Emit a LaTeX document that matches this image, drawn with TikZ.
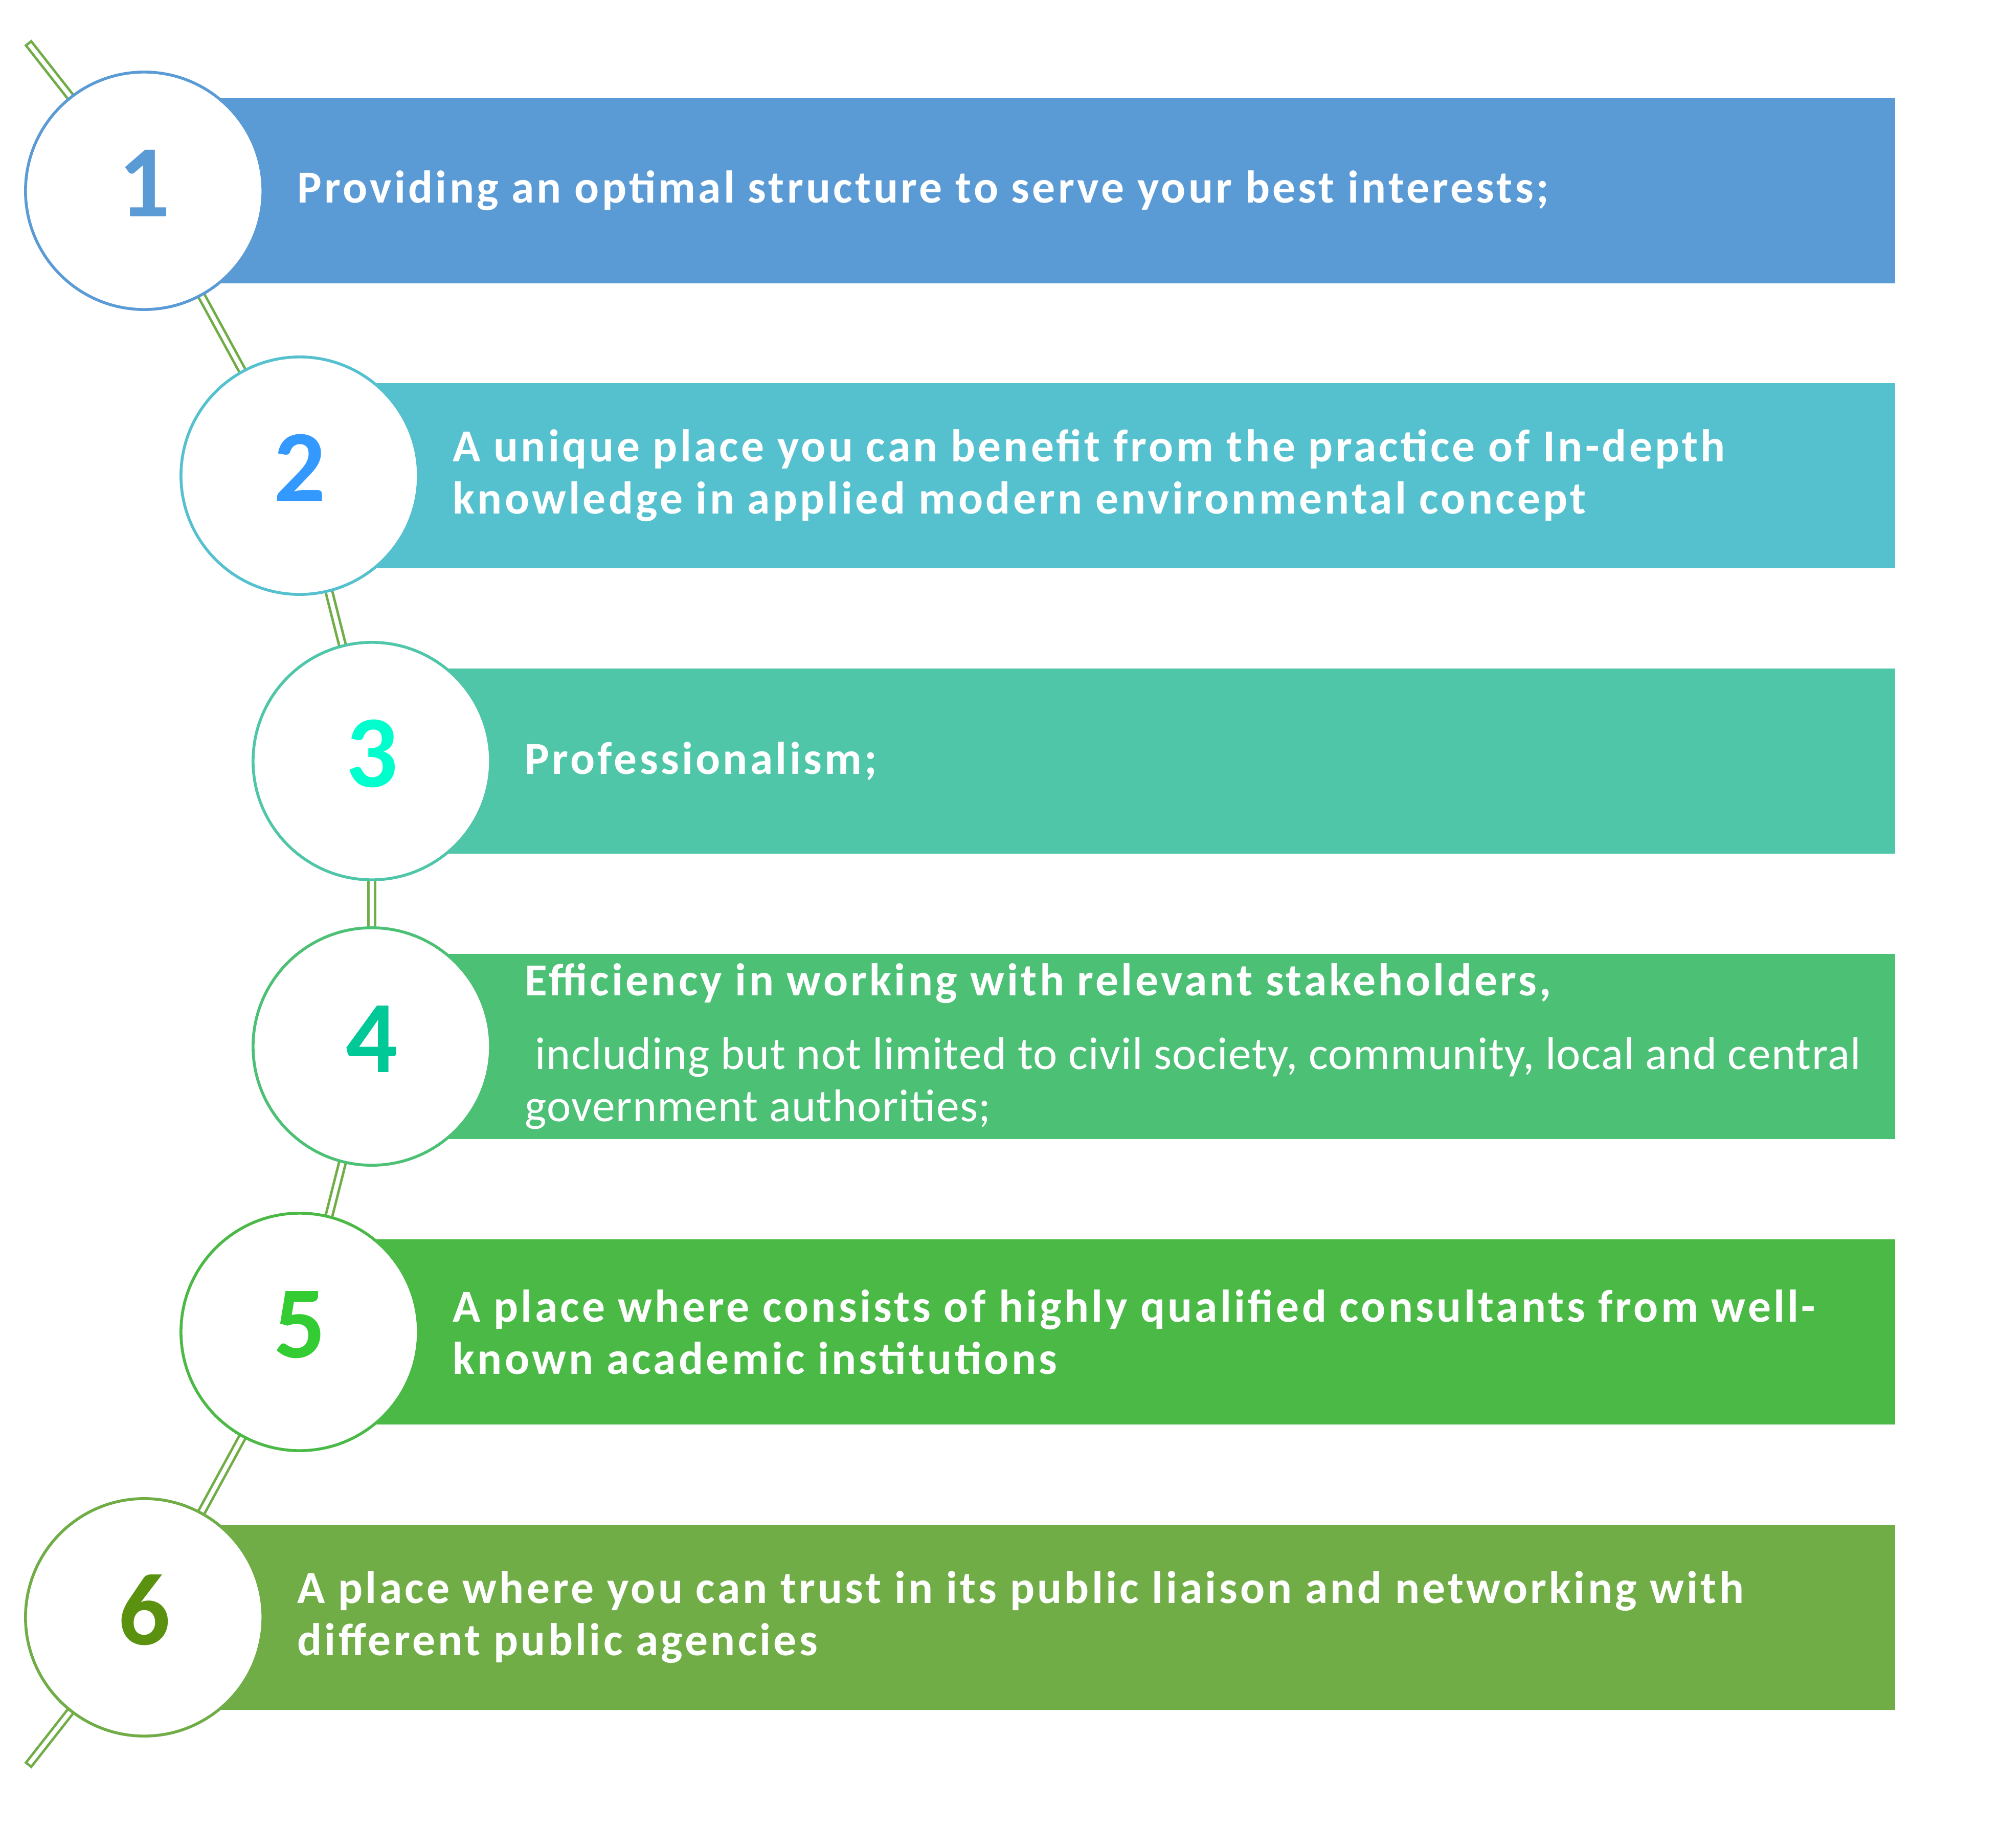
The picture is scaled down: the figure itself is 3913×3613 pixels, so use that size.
\documentclass[tikz,border=0pt]{standalone}
\usepackage{fontspec}
\setmainfont{Carlito}
\newfontfamily\boldtext[LetterSpace=5.8]{Carlito}
\newfontfamily\plaintext[LetterSpace=1.5]{Carlito}
\usetikzlibrary{positioning, fit, backgrounds}

\definecolor{barA}{HTML}{5B9BD5}
\definecolor{barB}{HTML}{55C1CF}
\definecolor{barC}{HTML}{50C6A8}
\definecolor{barD}{HTML}{4CC075}
\definecolor{barE}{HTML}{4AB946}
\definecolor{barF}{HTML}{70AD47}
\definecolor{numA}{HTML}{5B9BD5}
\definecolor{numB}{HTML}{3399FF}
\definecolor{numC}{HTML}{00FFCC}
\definecolor{numD}{HTML}{00C896}
\definecolor{numE}{HTML}{33CC33}
\definecolor{numF}{HTML}{5A9210}
\definecolor{chaingreen}{HTML}{70AD47}

\begin{document}
\begin{tikzpicture}[
    x=0.01cm, y=-0.01cm,
    node distance=0.64cm,
    % Circle Style
    stepcircle/.style={
        circle, draw=#1, line width=1.6pt, fill=white, minimum size=4.64cm,
        inner sep=0pt, text depth=0.3cm, font=\fontsize{57}{60}\selectfont\bfseries
    },
    % Bar Style
    stepbar/.style={rectangle, fill=#1, inner sep=0pt, minimum height=3.62cm},
    % Text Style
    bartext/.style={
        inner sep=0pt, align=left, text=white,
        font=\fontsize{25.5}{29}\selectfont\boldtext\bfseries
    },
    % Connector Style
    linkline/.style={draw=chaingreen, line width=1.4pt, double=white, double distance=2.3pt, line cap=rect}
]
    \useasboundingbox (0,0) rectangle (3913,3613);

    % --- CIRCLES ---
    \node[stepcircle=barA, text=numA] (c1) at (282,373) {1};
    \node[stepcircle=barB, text=numB] (c2) at (586,930) {2};
    \node[stepcircle=barC, text=numC] (c3) at (727,1488) {3};
    \node[stepcircle=barD, text=numD] (c4) at (727,2046) {4};
    \node[stepcircle=barE, text=numE] (c5) at (586,2604) {5};
    \node[stepcircle=barF, text=numF] (c6) at (282,3162) {6};

    % --- TEXTS ---
    \node[bartext, right=of c1] (t1) {Providing an optimal structure to serve your best interests;};
    \node[bartext, right=of c2] (t2) {A unique place you can benefit from the practice of In-depth\\
        knowledge in applied modern environmental concept};
    \node[bartext, right=of c3] (t3) {Professionalism;};
    \node[bartext, right=of c4] (t4) {Efficiency in working with relevant stakeholders,\\[0.42cm]
        \plaintext\mdseries\hspace*{0.2cm}including but not limited to civil society, community, local and central\\
        \plaintext\mdseries government authorities;};
    \node[bartext, right=of c5] (t5) {A place where consists of highly qualified consultants from well-\\
        known academic institutions};
    \node[bartext, right=of c6] (t6) {A place where you can trust in its public liaison and networking with\\
        different public agencies};

    % --- BARS AND CHAIN ---
    \coordinate (edge) at (3706,0);
    \coordinate (chaintop) at (60,90);
    \coordinate (chainbot) at (60,3445);
    \begin{scope}[on background layer]
        \draw[linkline] (chaintop) -- (c1.center) -- (c2.center) -- (c3.center)
            -- (c4.center) -- (c5.center) -- (c6.center) -- (chainbot);
        \foreach \i/\col in {1/barA, 2/barB, 3/barC, 4/barD, 5/barE, 6/barF} {
            \node[stepbar=\col, fit=(c\i.center) (c\i.center -| edge)] (b\i) {};
        }
    \end{scope}

\end{tikzpicture}
\end{document}
